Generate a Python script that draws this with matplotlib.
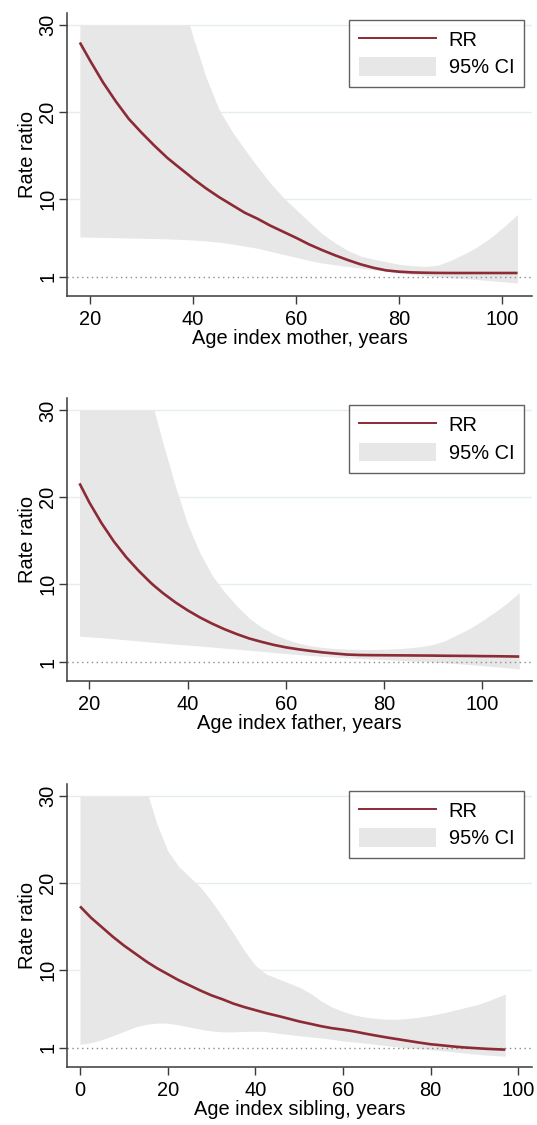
import numpy as np
import matplotlib.pyplot as plt
from matplotlib.patches import Patch
from matplotlib.lines import Line2D

plt.rcParams['font.family'] = ['Liberation Sans', 'DejaVu Sans']
plt.rcParams['font.size'] = 14.4

# index mother
age_m = [18, 20, 22.5, 25, 27.5, 30, 32.5, 35, 37.5, 39.3, 40, 42.5, 45, 47.5, 50, 52.5, 55, 57.5,
         60, 62.5, 65, 67.5, 70, 72.5, 75, 77.5, 80, 82.5, 85, 87.5, 90, 92.5, 95, 97.5, 100, 103]
rr_m = [28.0, 25.9, 23.4, 21.2, 19.2, 17.6, 16.1, 14.7, 13.5, 12.65, 12.3, 11.2, 10.2, 9.3, 8.4, 7.7, 6.9, 6.2,
        5.5, 4.75, 4.1, 3.5, 2.95, 2.45, 2.05, 1.75, 1.6, 1.52, 1.48, 1.46, 1.45, 1.45, 1.45, 1.45, 1.45, 1.45]
lo_m = [5.6, 5.58, 5.55, 5.52, 5.48, 5.45, 5.42, 5.38, 5.32, 5.27, 5.25, 5.15, 5.0, 4.8, 4.55, 4.3, 3.95, 3.6,
        3.25, 2.9, 2.6, 2.4, 2.2, 2.0, 1.82, 1.65, 1.45, 1.3, 1.15, 1.02, 0.9, 0.8, 0.7, 0.58, 0.45, 0.3]
hi_m = [30, 30, 30, 30, 30, 30, 30, 30, 30, 30, 28.6, 24.0, 20.3, 17.8, 15.7, 13.7, 11.8, 10.15,
        8.75, 7.35, 6.0, 4.95, 4.05, 3.4, 3.05, 2.75, 2.45, 2.3, 2.2, 2.35, 2.9, 3.6, 4.4, 5.4, 6.6, 8.2]

# index father
age_f = [18, 20, 22.5, 25, 27.5, 30, 32.5, 33.2, 35, 37.5, 40, 42.5, 45, 47.5, 50, 52.5, 55, 57.5, 60, 62.5,
         65, 67.5, 70, 72.5, 75, 77.5, 80, 82.5, 85, 87.5, 90, 92.5, 95, 97.5, 100, 102.5, 105, 107.5]
rr_f = [21.6, 19.4, 17.0, 14.9, 13.1, 11.55, 10.15, 9.8, 8.95, 7.9, 6.98, 6.16, 5.44, 4.8, 4.24, 3.74, 3.35, 3.0, 2.71, 2.49,
        2.3, 2.13, 2.0, 1.88, 1.83, 1.81, 1.8, 1.79, 1.78, 1.77, 1.76, 1.74, 1.73, 1.72, 1.7, 1.69, 1.67, 1.65]
lo_f = [4.0, 3.92, 3.82, 3.7, 3.58, 3.45, 3.32, 3.29, 3.2, 3.08, 2.97, 2.86, 2.75, 2.62, 2.5, 2.38, 2.25, 2.12, 2.0, 1.88,
        1.77, 1.67, 1.58, 1.5, 1.43, 1.36, 1.3, 1.23, 1.16, 1.09, 1.02, 0.93, 0.83, 0.72, 0.6, 0.48, 0.36, 0.23]
hi_f = [30, 30, 30, 30, 30, 30, 30, 30, 26.2, 21.3, 16.9, 13.6, 11.0, 9.1, 7.5, 6.1, 5.05, 4.25, 3.65, 3.2,
        2.9, 2.7, 2.58, 2.5, 2.47, 2.47, 2.5, 2.55, 2.65, 2.8, 3.05, 3.5, 4.2, 4.9, 5.8, 6.75, 7.8, 9.0]

# index sibling
age_s = [0, 2.5, 5, 7.5, 10, 12.5, 15, 15.6, 17.5, 20, 22.5, 25, 27.5, 30, 32.5, 35, 37.5, 40, 42.5, 45, 47.5,
         50, 52.5, 55, 57.5, 60, 62.5, 65, 67.5, 70, 72.5, 75, 77.5, 80, 82.5, 85, 87.5, 90, 92.5, 95, 97]
rr_s = [17.3, 16.0, 14.9, 13.8, 12.8, 11.9, 11.0, 10.8, 10.2, 9.5, 8.8, 8.2, 7.6, 7.05, 6.6, 6.1, 5.7, 5.35, 5.0, 4.7, 4.38,
        4.05, 3.78, 3.5, 3.27, 3.1, 2.9, 2.65, 2.42, 2.2, 2.0, 1.8, 1.6, 1.42, 1.3, 1.17, 1.06, 0.98, 0.9, 0.84, 0.8]
lo_s = [1.4, 1.6, 1.95, 2.4, 2.9, 3.4, 3.7, 3.75, 3.85, 3.85, 3.65, 3.4, 3.15, 2.95, 2.85, 2.85, 2.9, 2.92, 2.88, 2.7, 2.55,
        2.4, 2.28, 2.15, 1.98, 1.8, 1.68, 1.55, 1.4, 1.25, 1.12, 1.0, 0.9, 0.8, 0.68, 0.55, 0.42, 0.3, 0.18, 0.1, 0.05]
hi_s = [30, 30, 30, 30, 30, 30, 30, 30, 26.85, 23.7, 21.9, 20.7, 19.5, 17.9, 16.1, 14.2, 12.2, 10.5, 9.5, 9.0, 8.5,
        8.0, 7.3, 6.4, 5.7, 5.2, 4.8, 4.55, 4.4, 4.3, 4.3, 4.4, 4.55, 4.75, 5.0, 5.3, 5.6, 5.9, 6.3, 6.8, 7.2]

xlabels = ["Age index mother, years", "Age index father, years", "Age index sibling, years"]
xticks = [[20, 40, 60, 80, 100], [20, 40, 60, 80, 100], [0, 20, 40, 60, 80, 100]]
xlims = [(15.5, 105.8), (15.45, 110.1), (-2.97, 103.1)]
yticks = [1, 10, 20, 30]

red = '#8c2a35'
ci_col = '#e7e7e7'
grid_col = '#e4edf0'
axis_col = '#3a3a3a'

fig = plt.figure(figsize=(5.37, 11.25), dpi=100)
W, H = 537, 1125
tops = [13, 398.3, 784]

data = [(age_m, rr_m, lo_m, hi_m), (age_f, rr_f, lo_f, hi_f), (age_s, rr_s, lo_s, hi_s)]

for i, (age, rr, lo, hi) in enumerate(data):
    top = tops[i]
    ax = fig.add_axes([67 / W, (H - top - 283) / H, 465 / W, 283 / H])
    for g in [10, 20, 30]:
        ax.axhline(g, color=grid_col, lw=1, zorder=0)
    ax.fill_between(age, lo, hi, color=ci_col, lw=0, zorder=1)
    ax.axhline(1, color='#8c8c8c', lw=1, ls=(0, (1, 2.5)), zorder=2)
    ax.plot(age, rr, color=red, lw=1.9, zorder=3, solid_capstyle='butt')

    ax.set_xlim(*xlims[i])
    ax.set_ylim(-1.2, 31.4)
    ax.set_xticks(xticks[i])
    ax.set_yticks(yticks)
    ax.set_yticklabels([str(t) for t in yticks], rotation=90, va='center')
    for s in ['top', 'right']:
        ax.spines[s].set_visible(False)
    for s in ['left', 'bottom']:
        ax.spines[s].set_color(axis_col)
        ax.spines[s].set_linewidth(1.1)
    ax.tick_params(axis='both', direction='out', length=5.5, width=1.0, color=axis_col)
    ax.tick_params(axis='x', pad=4.5)
    ax.tick_params(axis='y', pad=1.5)
    ax.set_xlabel(xlabels[i], labelpad=0)
    ax.set_ylabel("Rate ratio", labelpad=1)

    handles = [Line2D([], [], color=red, lw=1.4),
               Patch(facecolor=ci_col, edgecolor='none')]
    leg = ax.legend(handles, ["RR", "95% CI"], loc='upper right',
                    bbox_to_anchor=(0.9834, 0.975), borderaxespad=0,
                    frameon=True, fancybox=False, handlelength=3.85,
                    handleheight=1.04, handletextpad=0.64, labelspacing=0.36,
                    borderpad=0.5)
    leg.get_frame().set_edgecolor('#3a3a3a')
    leg.get_frame().set_linewidth(1.0)

fig.savefig('out.png', dpi=100)
